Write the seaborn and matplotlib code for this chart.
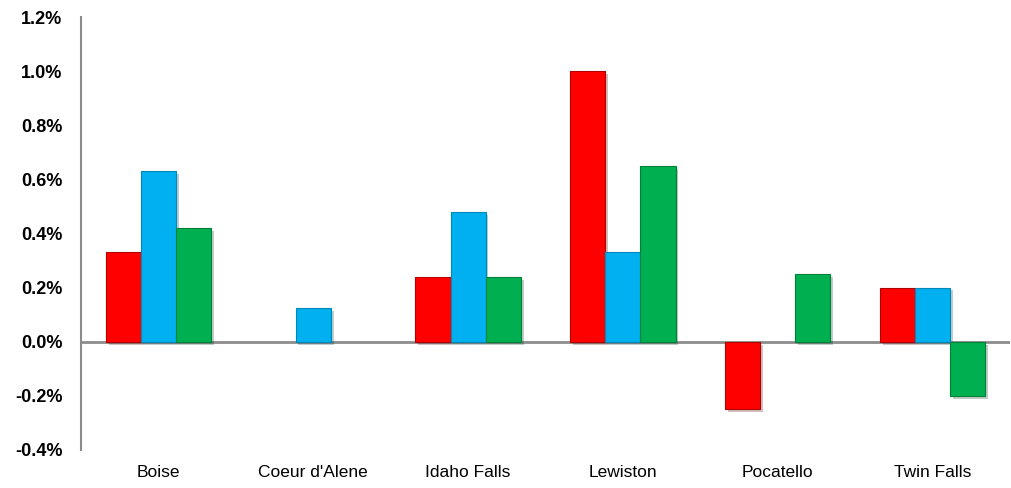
import pandas as pd
import seaborn as sns
import matplotlib.pyplot as plt
import matplotlib.patheffects as pe
from matplotlib.ticker import FuncFormatter, MultipleLocator

cities = ["Boise", "Coeur d'Alene", "Idaho Falls", "Lewiston", "Pocatello", "Twin Falls"]
series = ["A", "B", "C"]
red_vals = [0.33, 0.0, 0.24, 1.0, -0.25, 0.20]
blue_vals = [0.63, 0.125, 0.48, 0.33, 0.0, 0.20]
green_vals = [0.42, 0.0, 0.24, 0.65, 0.25, -0.20]
colors = ["#FF0000", "#00B0F0", "#00B050"]

rows = []
for name, vals in zip(series, [red_vals, blue_vals, green_vals]):
    for c, v in zip(cities, vals):
        rows.append({"city": c, "series": name, "value": v})
df = pd.DataFrame(rows)

sns.set_style("white")
plt.rcParams['font.family'] = ['Liberation Sans', 'DejaVu Sans']

fig = plt.figure(figsize=(10.11, 4.88), dpi=100)
ax = fig.add_axes([81 / 1011, 1 - 450 / 488, 929 / 1011, 433 / 488])

sns.barplot(data=df, x="city", y="value", hue="series", palette=colors,
            width=0.68, ax=ax, legend=False, saturation=1)

# darker outlines + soft drop shadow, hide empty bars
edge = ["#B00000", "#0088B8", "#008038"]
for i, cont in enumerate(ax.containers):
    for p in cont.patches:
        if p.get_height() == 0:
            p.set_visible(False)
            continue
        p.set_edgecolor(edge[i])
        p.set_linewidth(0.8)
        p.set_path_effects([pe.SimplePatchShadow(offset=(2, -2), alpha=0.25),
                            pe.Normal()])

ax.set_ylim(-0.4, 1.2)
ax.yaxis.set_major_locator(MultipleLocator(0.2))
ax.yaxis.set_major_formatter(FuncFormatter(lambda v, _: f"{v:.1f}%"))
ax.set_xlabel("")
ax.set_ylabel("")
ax.axhline(0, color="#8C8C8C", lw=2, zorder=0)

for s in ["top", "right", "bottom"]:
    ax.spines[s].set_visible(False)
ax.spines["left"].set_color("#8C8C8C")
ax.spines["left"].set_linewidth(1.5)

ax.tick_params(axis="y", length=0, pad=13.5, labelsize=13, labelcolor="black")
ax.tick_params(axis="x", length=0, pad=11, labelsize=12.5, labelcolor="black")
for t in ax.get_yticklabels():
    t.set_fontweight("bold")

fig.savefig("out.png", dpi=100)
